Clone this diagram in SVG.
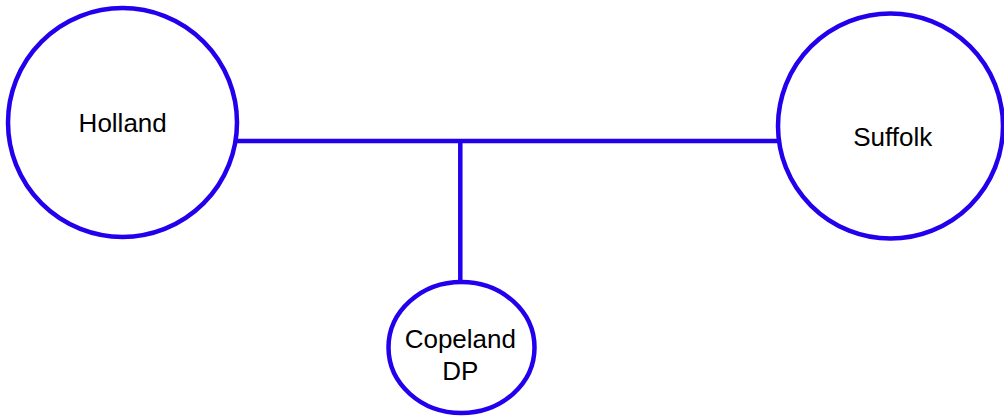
<svg xmlns="http://www.w3.org/2000/svg" width="1004" height="417" viewBox="0 0 1004 417">
<style>
.node{fill:#ffffff;stroke:#2200ee;stroke-width:4.5}
.edge{stroke:#2200ee;stroke-width:4.5;fill:none}
.label{font-family:"Liberation Sans",Arial,sans-serif;font-size:26px;fill:#000000;text-anchor:middle}
</style>
<rect width="1004" height="417" fill="#ffffff"/>
<g id="connectors">
<line class="edge" x1="237" y1="141" x2="779" y2="141"/>
<line class="edge" x1="460.3" y1="141" x2="460.3" y2="284"/>
</g>
<g id="holland">
<circle class="node" cx="122.5" cy="122.5" r="114.5"/>
<text class="label" x="122.7" y="131.5">Holland</text>
</g>
<g id="suffolk">
<circle class="node" cx="890.5" cy="126" r="112.5"/>
<text class="label" x="892.7" y="146">Suffolk</text>
</g>
<g id="copeland">
<ellipse class="node" cx="461.5" cy="347.5" rx="73" ry="65.5"/>
<text class="label" x="460.3" y="348.3">Copeland</text>
<text class="label" x="460.3" y="380">DP</text>
</g>
</svg>
